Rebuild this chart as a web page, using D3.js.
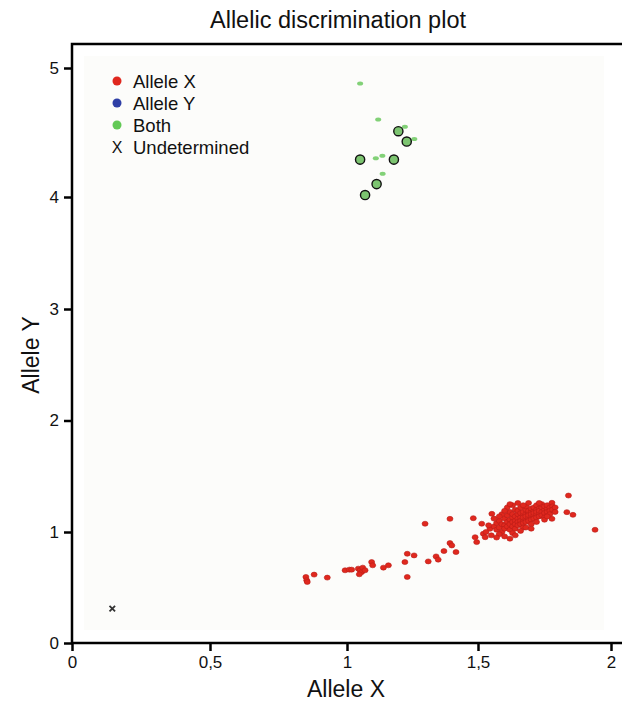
<!DOCTYPE html>
<html>
<head>
<meta charset="utf-8">
<script src="https://cdn.jsdelivr.net/npm/d3@7"></script>
<style>
body{margin:0;background:#fff;font-family:"Liberation Sans",Arial,sans-serif}
</style>
</head>
<body>
<div id="container"></div>
<script>
// values
var xTicks = [0, 0.5, 1, 1.5, 2]
var yTicks = [0, 1, 2, 3, 4, 5]

var alleleX = [
[0.850,0.595],[0.853,0.565],[0.855,0.550],[0.880,0.616],[0.928,0.589],[0.993,0.655],[1.009,0.661],[1.018,0.661],
[1.043,0.670],[1.050,0.655],[1.056,0.639],[1.060,0.679],[1.069,0.655],[1.047,0.619],[1.094,0.729],[1.098,0.700],
[1.139,0.679],[1.158,0.700],[1.221,0.729],[1.230,0.804],[1.256,0.789],[1.230,0.595],[1.298,1.074],[1.310,0.735],
[1.340,0.780],[1.348,0.751],[1.370,0.828],[1.393,0.900],[1.400,0.879],[1.416,0.819],[1.393,1.118],[1.482,1.124],
[1.489,0.953],[1.495,0.909],[1.514,1.074],[1.520,0.984],[1.527,0.953],[1.545,1.029],[1.552,1.163],[1.940,1.020],
[1.840,1.327],[1.834,1.178],[1.857,1.154],[1.778,1.262],[1.778,1.118],
[1.56,1.05],[1.57,1.08],[1.57,1.02],[1.58,1.10],[1.58,1.04],[1.59,1.07],[1.59,1.00],[1.60,1.12],[1.60,1.06],[1.60,1.03],
[1.61,1.09],[1.61,1.15],[1.61,1.05],[1.62,1.11],[1.62,1.07],[1.62,1.02],[1.62,1.18],[1.63,1.13],[1.63,1.09],[1.63,1.05],
[1.63,1.16],[1.64,1.10],[1.64,1.14],[1.64,1.07],[1.64,1.20],[1.64,1.03],[1.65,1.12],[1.65,1.16],[1.65,1.09],[1.65,1.06],
[1.65,1.19],[1.66,1.13],[1.66,1.10],[1.66,1.17],[1.66,1.22],[1.66,1.07],[1.67,1.15],[1.67,1.11],[1.67,1.18],[1.67,1.08],
[1.67,1.13],[1.67,1.04],[1.68,1.16],[1.68,1.12],[1.68,1.20],[1.68,1.09],[1.68,1.14],[1.68,1.23],[1.69,1.17],[1.69,1.13],
[1.69,1.10],[1.69,1.19],[1.69,1.15],[1.70,1.18],[1.70,1.14],[1.70,1.21],[1.70,1.11],[1.70,1.16],[1.70,1.07],[1.71,1.19],
[1.71,1.15],[1.71,1.12],[1.71,1.22],[1.71,1.17],[1.72,1.20],[1.72,1.16],[1.72,1.13],[1.72,1.24],[1.72,1.18],[1.73,1.21],
[1.73,1.17],[1.73,1.14],[1.73,1.19],[1.74,1.22],[1.74,1.18],[1.74,1.15],[1.74,1.25],[1.75,1.20],[1.75,1.17],[1.75,1.23],
[1.75,1.13],[1.76,1.21],[1.76,1.18],[1.76,1.24],[1.77,1.22],[1.77,1.19],[1.77,1.16],[1.78,1.23],[1.78,1.20],[1.79,1.22],
[1.79,1.18],[1.58,0.98],[1.60,0.96],[1.63,0.99],[1.66,1.01],[1.61,1.22],[1.63,1.24],[1.69,1.26],[1.65,1.26],[1.72,1.09],
[1.75,1.11],[1.68,1.04],[1.62,0.94],[1.56,1.12],[1.59,1.16],[1.54,1.06],[1.53,1.00],
[1.55,0.97],[1.57,0.95],[1.60,1.19],[1.64,0.97],[1.67,1.24],[1.70,1.03],[1.73,1.26],[1.76,1.14],[1.58,1.14],[1.62,1.25]
]
var both = [[1.050,4.88],[1.119,4.60],[1.221,4.545],[1.257,4.45],[1.110,4.30],[1.135,4.32],[1.136,4.18]]
var bothMarked = [[1.196,4.51],[1.228,4.43],[1.050,4.29],[1.179,4.29],[1.113,4.10],[1.069,4.015]]
var undetermined = [[0.146,0.31]]

var legendLabels = ["Allele X","Allele Y","Both","Undetermined"]
var legendColors = ["#e0281e","#2f3fa6","#62c955",null]

var w = 622
var h = 701

var svg = d3.select("#container").append("svg").attr("width",w).attr("height",h)

// the picture's axes are not quite even, so the scales are piecewise
var xScale = d3.scaleLinear().domain([0,0.5,1,1.5,2]).range([72,210,347,478,611])
var yScale = d3.scaleLinear().domain([0,1,3,4,5]).range([643,532,309,197,68])

svg.append("rect").attr("x",84).attr("y",56).attr("width",520).attr("height",574).attr("fill","#fcfcfa")

svg.append("text").text("Allelic discrimination plot")
    .attr("x",338).attr("y",28).attr("text-anchor","middle").attr("font-size",23.5).attr("fill","#111")

var xAxis = d3.axisBottom().scale(xScale).tickValues(xTicks).tickSize(8).tickPadding(5)
    .tickFormat(function(d){return String(d).replace(".",",")})
var gx = svg.append("g").attr("transform","translate(0,643)").call(xAxis)
gx.select(".domain").remove()
gx.selectAll("line").attr("stroke","#000").attr("stroke-width",2.5)
gx.selectAll("text").attr("font-size",17).attr("font-family","Liberation Sans, Arial").attr("fill","#111")

var yAxis = d3.axisLeft().scale(yScale).tickValues(yTicks).tickSize(8).tickPadding(5)
    .tickFormat(function(d){return String(d)})
var gy = svg.append("g").attr("transform","translate(72,0)").call(yAxis)
gy.select(".domain").remove()
gy.selectAll("line").attr("stroke","#000").attr("stroke-width",2.5)
gy.selectAll("text").attr("font-size",17).attr("font-family","Liberation Sans, Arial").attr("fill","#111")

// frame: top, left, bottom
svg.append("path").attr("d","M622,44H72V643H622").attr("fill","none").attr("stroke","#000").attr("stroke-width",2.5)

svg.append("text").text("Allele X").attr("x",346).attr("y",697).attr("text-anchor","middle").attr("font-size",23).attr("fill","#111")
svg.append("text").text("Allele Y").attr("transform","translate(39,355) rotate(-90)").attr("text-anchor","middle").attr("font-size",23).attr("fill","#111")

svg.append("g").selectAll("ellipse").data(alleleX).enter().append("ellipse")
    .attr("cx",function(d){return xScale(d[0])})
    .attr("cy",function(d){return yScale(d[1])})
    .attr("rx",3).attr("ry",2.5)
    .attr("fill","#e0281e").attr("stroke","#b81c18").attr("stroke-width",0.6)

svg.append("g").selectAll("ellipse").data(both).enter().append("ellipse")
    .attr("cx",function(d){return xScale(d[0])})
    .attr("cy",function(d){return yScale(d[1])})
    .attr("rx",3).attr("ry",2)
    .attr("fill","#6cc95f").attr("opacity",0.85)

svg.append("g").selectAll("circle").data(bothMarked).enter().append("circle")
    .attr("cx",function(d){return xScale(d[0])})
    .attr("cy",function(d){return yScale(d[1])})
    .attr("r",4.6)
    .attr("fill","#7cc470").attr("stroke","#111").attr("stroke-width",1.4)

svg.append("g").selectAll("path").data(undetermined).enter().append("path")
    .attr("d",d3.symbol(d3.symbolX).size(22))
    .attr("transform",function(d){return "translate("+xScale(d[0])+","+yScale(d[1])+")"})
    .attr("fill","none").attr("stroke","#333").attr("stroke-width",1.8)

var legend = svg.append("g").attr("transform","translate(117,81)")
legendLabels.forEach(function(l,i){
    var row = legend.append("g").attr("transform","translate(0,"+(i*22)+")")
    if(legendColors[i]){
        row.append("circle").attr("r",4.5).attr("fill",legendColors[i])
    }else{
        row.append("text").text("X").attr("text-anchor","middle").attr("y",6).attr("font-size",16).attr("fill","#111")
    }
    row.append("text").text(l).attr("x",16).attr("y",6.5).attr("font-size",18.5).attr("fill","#111")
})
</script>
</body>
</html>
